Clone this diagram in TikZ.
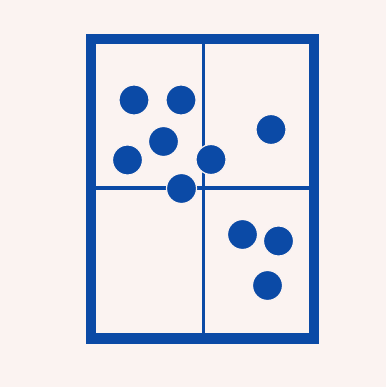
\documentclass[tikz,border=0pt]{standalone}
\usepackage{tikz}

\definecolor{paper}{HTML}{FBF3F1}
\definecolor{inkblue}{HTML}{0B4AA6}

\begin{document}
\begin{tikzpicture}[
    x=1pt, y=-1pt,
    frame/.style={draw=inkblue, line width=10.5pt},
    divider/.style={draw=inkblue, line width=3.6pt},
    dot/.style={fill=inkblue, draw=paper, line width=1.2pt}
]

% Hintergrund
\fill[paper] (0,0) rectangle (386,387);
\useasboundingbox (0,0) rectangle (386,387);

% Rahmen und Teilung
\draw[divider] (203.5,39) -- (203.5,338.5);
\draw[divider] (91,188) -- (314,188);
\draw[frame] (91,39) rectangle (314,338.5);

% Punkte
\foreach \px/\py in {134/100, 181/100, 163.5/141.5, 127.5/160, 211/159.5,
                     271/129.5, 181.5/188.5, 242.5/234.5, 278.5/241, 267.5/285.5}
    \filldraw[dot] (\px,\py) circle (15);

\end{tikzpicture}
\end{document}
